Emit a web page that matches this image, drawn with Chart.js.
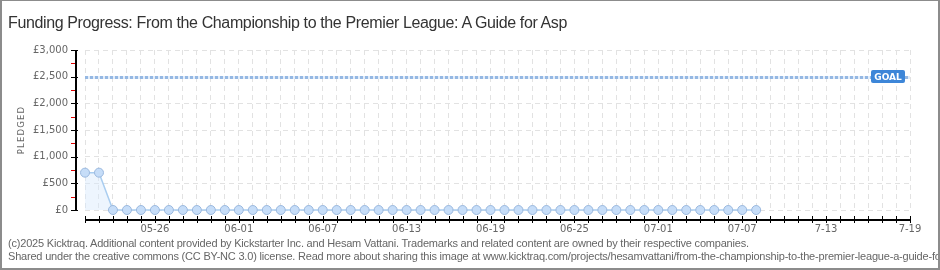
<!DOCTYPE html>
<html>
<head>
<meta charset="utf-8">
<script src="https://cdn.jsdelivr.net/npm/chart.js@4"></script>
<style>
  body { margin: 0; background: #fff; }
  #wrap { position: relative; width: 940px; height: 270px; overflow: hidden; background: #fff; }
  #frame { position: absolute; left: 0; top: 0; width: 940px; height: 270px; box-sizing: border-box;
           border: 2px solid #8c8c8c; border-top-width: 1px; pointer-events: none; }
  #title { position: absolute; left: 8px; top: 14px; font: 16px "Liberation Sans", sans-serif; letter-spacing: -0.37px;
           color: #333; white-space: nowrap; }
  .foot { position: absolute; left: 8px; font: 11px "Liberation Sans", sans-serif; letter-spacing: -0.2px;
          color: #666; white-space: nowrap; }
  canvas { position: absolute; left: 0; top: 0; }
</style>
</head>
<body>
<div id="wrap">
  <canvas id="chart" width="940" height="270"></canvas>
  <div id="title">Funding Progress: From the Championship to the Premier League: A Guide for Asp</div>
  <div class="foot" style="top:237px">(c)2025 Kicktraq. Additional content provided by Kickstarter Inc. and Hesam Vattani. Trademarks and related content are owned by their respective companies.</div>
  <div class="foot" style="top:250px">Shared under the creative commons (CC BY-NC 3.0) license. Read more about sharing this image at www.kicktraq.com/projects/hesamvattani/from-the-championship-to-the-premier-league-a-guide-fo</div>
  <div id="frame"></div>
</div>
<script>
// --- Data ---
const days = [
  '05-21', '05-22', '05-23', '05-24', '05-25', '05-26', '05-27', '05-28', '05-29', '05-30',
  '05-31', '06-01', '06-02', '06-03', '06-04', '06-05', '06-06', '06-07', '06-08', '06-09',
  '06-10', '06-11', '06-12', '06-13', '06-14', '06-15', '06-16', '06-17', '06-18', '06-19',
  '06-20', '06-21', '06-22', '06-23', '06-24', '06-25', '06-26', '06-27', '06-28', '06-29',
  '06-30', '07-01', '07-02', '07-03', '07-04', '07-05', '07-06', '07-07', '07-08', '07-09',
  '07-10', '07-11', '07-12', '07-13', '07-14', '07-15', '07-16', '07-17', '07-18', '07-19'
];
const pledged = [
  700, 700, 0, 0, 0, 0, 0, 0, 0, 0,
  0, 0, 0, 0, 0, 0, 0, 0, 0, 0,
  0, 0, 0, 0, 0, 0, 0, 0, 0, 0,
  0, 0, 0, 0, 0, 0, 0, 0, 0, 0,
  0, 0, 0, 0, 0, 0, 0, 0, 0, null,
  null, null, null, null, null, null, null, null, null, null
];
const tickDays = ['05-26', '06-01', '06-07', '06-13', '06-19', '06-25', '07-01', '07-07', '07-13', '07-19'];
const tickLabels = ['05-26', '06-01', '06-07', '06-13', '06-19', '06-25', '07-01', '07-07', '7-13', '7-19'];
const yMax = 3000;
const yStep = 500;
const goal = 2500;
const yTitle = 'PLEDGED';

// --- Custom axes, goal line, y title ---
const kicktraqPlugin = {
  id: 'kicktraq',
  beforeDatasetsDraw(chart) {
    const { ctx, chartArea, scales } = chart;
    const gy = Math.round(scales.y.getPixelForValue(goal)) + 0.5;
    ctx.save();
    ctx.strokeStyle = '#e3edf9';
    ctx.lineWidth = 3;
    ctx.beginPath(); ctx.moveTo(chartArea.left, gy); ctx.lineTo(chartArea.right, gy); ctx.stroke();
    ctx.strokeStyle = '#95b8e3';
    ctx.setLineDash([3, 2]);
    ctx.beginPath(); ctx.moveTo(chartArea.left, gy); ctx.lineTo(chartArea.right, gy); ctx.stroke();
    ctx.restore();
  },
  afterDraw(chart) {
    const { ctx, chartArea, scales } = chart;
    const ys = scales.y, xs = scales.x;
    const axX = Math.round(chartArea.left) - 10;
    const axY = Math.round(chartArea.bottom) + 9;
    const yTop = Math.round(ys.getPixelForValue(yMax));
    const yBot = Math.round(ys.getPixelForValue(0));
    ctx.save();
    // y axis with major (black) and minor (red) ticks
    ctx.fillStyle = '#000';
    ctx.fillRect(axX, yTop, 2, yBot - yTop + 1);
    for (let v = 0; v <= yMax; v += yStep / 2) {
      const major = v % yStep === 0;
      const py = Math.round(ys.getPixelForValue(v));
      ctx.fillStyle = major ? '#000' : '#e00000';
      ctx.fillRect(axX - 4, py, major ? 7 : 4, 1);
    }
    // x axis, one tick per day
    const xL = Math.round(xs.getPixelForValue(0));
    const xR = Math.round(xs.getPixelForValue(days.length - 1));
    ctx.fillStyle = '#000';
    ctx.fillRect(xL, axY, xR - xL + 1, 2);
    for (let i = 0; i < days.length; i++) {
      const px = Math.round(xs.getPixelForValue(i));
      ctx.fillRect(px, axY - 3, 1, 7);
    }
    // goal badge
    const gy = ys.getPixelForValue(goal);
    const bx = chartArea.right - 39, bw = 34, bh = 13;
    ctx.fillStyle = '#3d86d8';
    ctx.beginPath();
    ctx.roundRect(bx, Math.round(gy - bh / 2), bw, bh, 2);
    ctx.fill();
    ctx.fillStyle = '#fff';
    ctx.font = 'bold 9px "DejaVu Sans"';
    ctx.textAlign = 'center';
    ctx.textBaseline = 'middle';
    ctx.fillText('GOAL', bx + bw / 2, Math.round(gy) + 0.5);
    // rotated y title
    ctx.translate(22, (chartArea.top + chartArea.bottom) / 2);
    ctx.rotate(-Math.PI / 2);
    ctx.fillStyle = '#666';
    ctx.font = '8.5px "DejaVu Sans"';
    if ('letterSpacing' in ctx) ctx.letterSpacing = '1.2px';
    ctx.fillText(yTitle, 0, 0);
    ctx.restore();
  }
};

new Chart(document.getElementById('chart'), {
  type: 'line',
  data: {
    labels: days,
    datasets: [{
      label: 'Pledged',
      data: pledged,
      borderColor: '#a9cdf0',
      borderWidth: 1.5,
      backgroundColor: 'rgba(214, 232, 252, 0.45)',
      fill: 'origin',
      tension: 0,
      pointRadius: 4.5,
      pointBackgroundColor: '#c6ddf8',
      pointBorderColor: '#9ab8de',
      pointBorderWidth: 1,
      spanGaps: false,
      clip: false
    }]
  },
  options: {
    responsive: false,
    animation: false,
    devicePixelRatio: 1,
    layout: { padding: { left: 25, right: 30, top: 50, bottom: 30 } },
    plugins: { legend: { display: false }, tooltip: { enabled: false } },
    scales: {
      x: {
        type: 'category',
        offset: false,
        afterFit: s => { s.height = 30; },
        grid: { color: '#e2e2e2', lineWidth: 1, drawTicks: false },
        border: { display: false, dash: [5, 4] },
        ticks: {
          autoSkip: false,
          maxRotation: 0,
          padding: 13,
          color: '#666',
          font: { family: 'DejaVu Sans', size: 10 },
          callback: function (value, index) {
            const k = tickDays.indexOf(days[index]);
            return k >= 0 ? tickLabels[k] : '';
          }
        }
      },
      y: {
        min: 0,
        max: yMax,
        afterFit: s => { s.width = 60; },
        grid: { color: '#e2e2e2', lineWidth: 1, drawTicks: false },
        border: { display: false, dash: [5, 4] },
        ticks: {
          stepSize: yStep,
          padding: 17,
          color: '#666',
          font: { family: 'DejaVu Sans', size: 10 },
          callback: v => '£' + v.toLocaleString('en-US')
        }
      }
    }
  },
  plugins: [kicktraqPlugin]
});
</script>
</body>
</html>
